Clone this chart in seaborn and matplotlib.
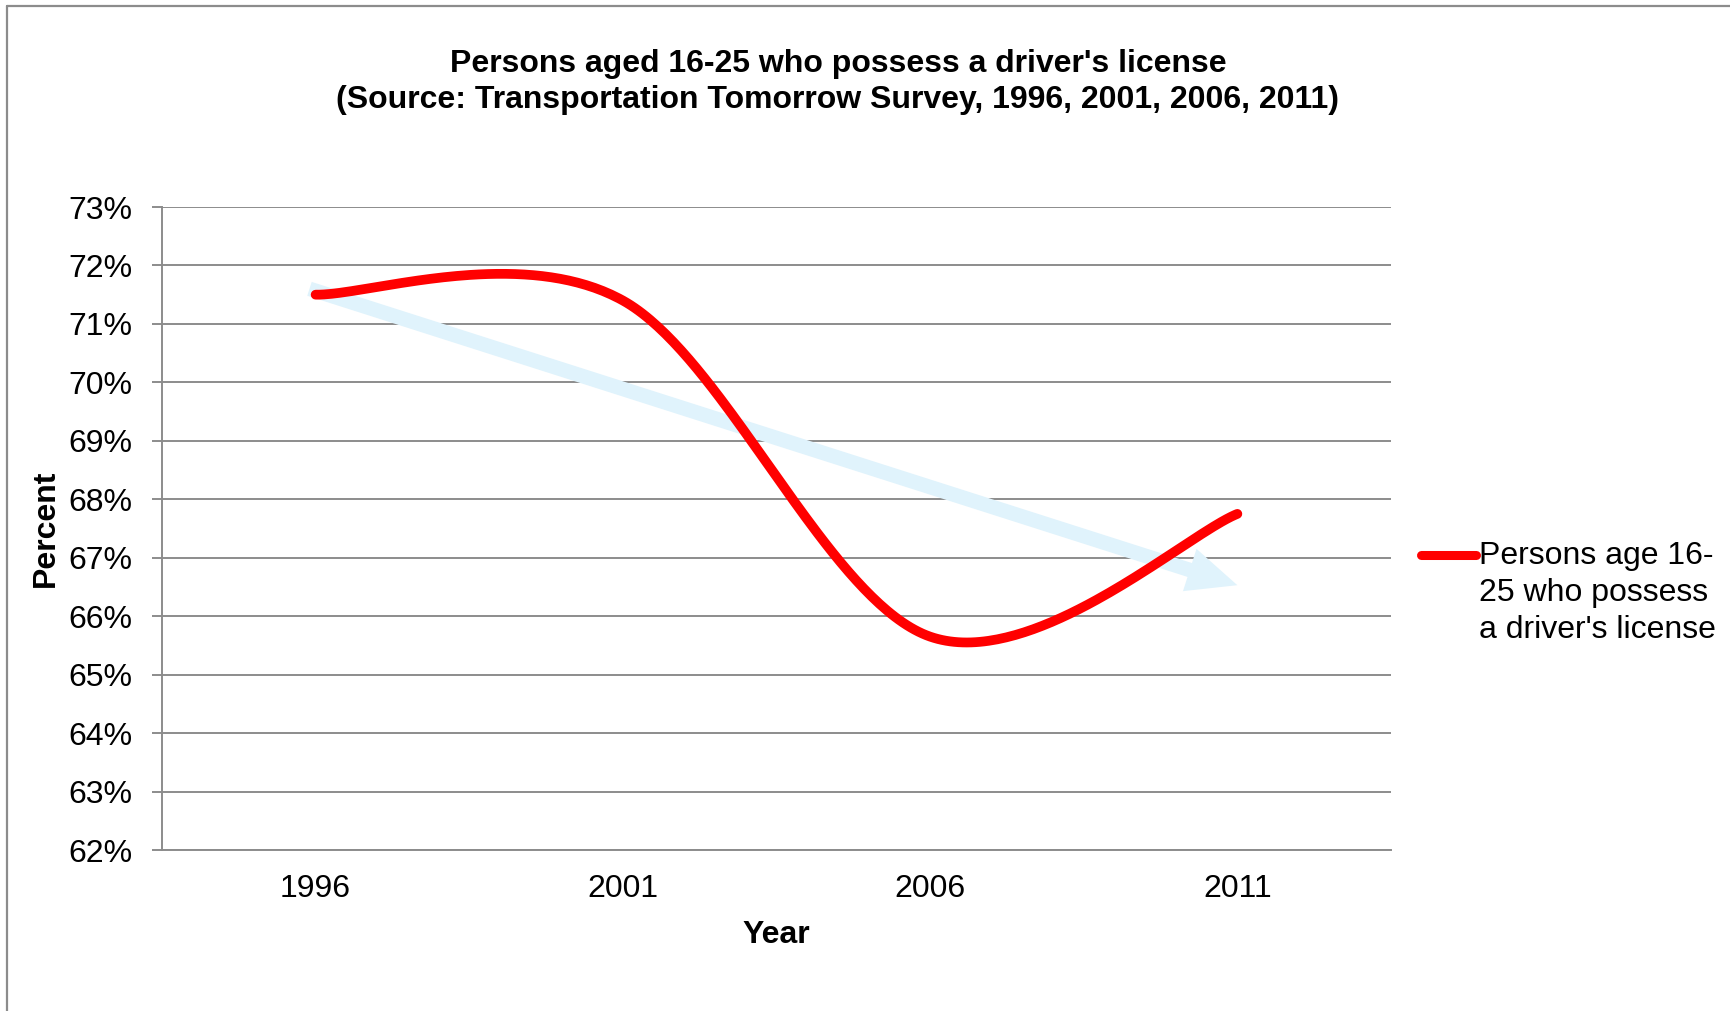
import numpy as np
import pandas as pd
import matplotlib
matplotlib.use('Agg')
import matplotlib.pyplot as plt
from matplotlib.lines import Line2D
from matplotlib.ticker import FuncFormatter
import seaborn as sns

# data
years = [1996, 2001, 2006, 2011]
pct_licensed = [71.5, 71.4, 65.65, 67.75]
y_ticks = list(range(62, 74))
series_label = "Persons age 16-\n25 who possess\na driver's license"
title = ("Persons aged 16-25 who possess a driver's license\n"
         "(Source: Transportation Tomorrow Survey, 1996, 2001, 2006, 2011)")

# hand-drawn trend arrow (data units)
trend_start = (1995.9, 71.6)
trend_end = (2011.0, 66.53)


def excel_smooth(x, y, n=80):
    # bezier segments through the points, like Excel's "smoothed line"
    P = np.column_stack([x, y]).astype(float)
    t = np.linspace(0, 1, n)[:, None]
    out = []
    for i in range(len(P) - 1):
        prev = P[max(i - 1, 0)]
        nxt = P[min(i + 2, len(P) - 1)]
        c1 = P[i] + (P[i + 1] - prev) / 6
        c2 = P[i + 1] - (nxt - P[i]) / 6
        seg = ((1 - t) ** 3 * P[i] + 3 * (1 - t) ** 2 * t * c1
               + 3 * (1 - t) * t ** 2 * c2 + t ** 3 * P[i + 1])
        out.append(seg if i == 0 else seg[1:])
    out = np.vstack(out)
    return pd.DataFrame({'year': out[:, 0], 'pct': out[:, 1]})


sns.set_style('white')
plt.rcParams['font.family'] = ['Liberation Sans', 'DejaVu Sans']
plt.rcParams['text.color'] = 'black'
plt.rcParams['axes.labelcolor'] = 'black'
fs = 23
grey = '#8c8c8c'

fig = plt.figure(figsize=(17.3, 10.11), dpi=100)
ax = fig.add_axes([162 / 1730, 1 - 850 / 1011, 1229 / 1730, 643 / 1011])

ax.annotate('', xy=trend_end, xytext=trend_start,
            arrowprops=dict(arrowstyle='simple,head_length=36,head_width=32,tail_width=10.5',
                            mutation_scale=1, color='#e0f3fc', lw=0,
                            shrinkA=0, shrinkB=0), zorder=2)

curve = excel_smooth(years, pct_licensed)
sns.lineplot(data=curve, x='year', y='pct', sort=False, color='#ff0000',
             linewidth=7, solid_capstyle='round', legend=False, ax=ax, zorder=3)

ax.set_xlim(years[0] - 2.5, years[-1] + 2.5)
ax.set_ylim(y_ticks[0], y_ticks[-1])
ax.set_xticks(years)
ax.set_xticklabels([str(y) for y in years])
ax.set_yticks(y_ticks)
ax.yaxis.set_major_formatter(FuncFormatter(lambda v, p: f'{v:.0f}%'))

ax.grid(axis='y', color=grey, linewidth=1.4)
ax.grid(axis='x', visible=False)
for s in ['top', 'right']:
    ax.spines[s].set_visible(False)
for s in ['left', 'bottom']:
    ax.spines[s].set_color(grey)
    ax.spines[s].set_linewidth(1.4)

ax.tick_params(axis='y', which='major', left=True, length=7.2, width=1.4,
               color=grey, pad=14, labelsize=fs, labelcolor='black')
ax.tick_params(axis='x', which='major', bottom=False, pad=14,
               labelsize=fs, labelcolor='black')

ax.set_xlabel('Year', fontsize=fs, fontweight='bold', va='center')
ax.xaxis.set_label_coords(0.5, (850 - 935) / 643)
ax.set_ylabel('Percent', fontsize=fs, fontweight='bold', va='center')
ax.yaxis.set_label_coords((46 - 162) / 1229, 0.5)

fig.text(838 / 1730, 1 - 82 / 1011, title, ha='center', va='center',
         fontsize=fs, fontweight='bold', linespacing=1.28)

handle = Line2D([], [], color='#ff0000', linewidth=6.5, solid_capstyle='round')
leg = fig.legend(handles=[handle], labels=[series_label], loc='center left',
                 bbox_to_anchor=(1421 / 1730, 1 - 593 / 1011),
                 frameon=False, fontsize=fs, borderpad=0, borderaxespad=0,
                 handlelength=1.72, handletextpad=0.1)
leg.get_texts()[0].set_linespacing(1.3)
ln = leg.get_lines()[0]
ln.set_ydata(np.asarray(ln.get_ydata()) + 27.6)

# outer chart border (clipped on the right/bottom in the original)
fig.add_artist(Line2D([7 / 1730, 7 / 1730], [0, 1 - 6 / 1011],
                      transform=fig.transFigure, color=grey, lw=1.6))
fig.add_artist(Line2D([7 / 1730, 1], [1 - 6 / 1011, 1 - 6 / 1011],
                      transform=fig.transFigure, color=grey, lw=1.6))

fig.savefig('out.png', dpi=100)
